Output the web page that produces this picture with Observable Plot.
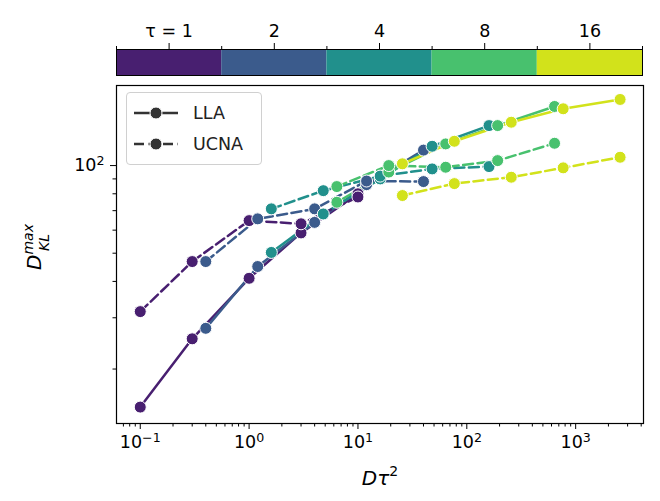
<!DOCTYPE html>
<html>
<head>
<meta charset="utf-8">
<script src="https://cdn.jsdelivr.net/npm/d3@7"></script>
<script src="https://cdn.jsdelivr.net/npm/@observablehq/plot@0.6"></script>
<style>
  html, body { margin: 0; padding: 0; background: white; }
  #wrap { position: relative; width: 660px; height: 501px; font-family: "DejaVu Sans", sans-serif; }
  #legend { position: absolute; left: 126px; top: 92px; width: 136px; height: 73px;
            border: 1px solid #d0d0d0; border-radius: 4px; background: rgba(255,255,255,0.85);
            box-sizing: border-box; }
  .lrow { position: absolute; left: 0; height: 22px; width: 135px; }
  .lrow svg { position: absolute; left: 5px; top: 0; }
  .lrow span { position: absolute; left: 66px; top: 0px; font-size: 17.5px; line-height: 22px; color: #222; }
</style>
</head>
<body>
<div id="wrap"></div>
<script>
// ---- data ----
const taus = [1, 2, 4, 8, 16];
const tauLabels = ["τ = 1", "2", "4", "8", "16"];
const tauColors = ["#481f70", "#3b5b8c", "#21908c", "#48c16e", "#d2e21b"];
const dValues = [0.1, 0.3, 1, 3, 10];

// LLA: D_KL^max per tau, at D = dValues (x = D * tau^2)
const llaTau1  = [14.8, 25.4, 41.0, 58.7, 80.0];
const llaTau2  = [27.6, 45.0, 63.8, 86.0, 113.0];
const llaTau4  = [50.3, 68.2, 90.0, 116.5, 137.2];
const llaTau8  = [74.8, 95.0, 118.7, 137.2, 159.6];
const llaTau16 = [101.4, 121.2, 140.9, 156.7, 168.7];

// UCNA
const ucnaTau1  = [31.5, 46.8, 64.7, 63.1, 78.0];
const ucnaTau2  = [46.8, 65.6, 71.0, 88.5, 88.1];
const ucnaTau4  = [71.0, 82.0, 92.0, 97.4, 99.2];
const ucnaTau8  = [84.7, 100.0, 98.7, 104.0, 119.3];
const ucnaTau16 = [78.9, 86.7, 91.2, 98.2, 106.8];

const xMajorTicks = [0.1, 1, 10, 100, 1000];
const xTickLabels = ["10^−1", "10^0", "10^1", "10^2", "10^3"];
const yMajorTicks = [100];
const yTickLabels = ["10^2"];

// ---- build table ----
const llaSeries = [llaTau1, llaTau2, llaTau4, llaTau8, llaTau16];
const ucnaSeries = [ucnaTau1, ucnaTau2, ucnaTau4, ucnaTau8, ucnaTau16];
const rows = [];
taus.forEach((t, i) => {
  dValues.forEach((d, j) => {
    rows.push({method: "LLA", tau: t, x: d * t * t, y: llaSeries[i][j]});
  });
  dValues.forEach((d, j) => {
    rows.push({method: "UCNA", tau: t, x: d * t * t, y: ucnaSeries[i][j]});
  });
});

// minor ticks for log axes
const xMinorTicks = [];
for (let e = -2; e <= 3; e++) for (let m = 2; m <= 9; m++) {
  const v = m * Math.pow(10, e);
  if (v > 0.06 && v < 4200) xMinorTicks.push(v);
}
const yMinorTicks = [];
for (let e = 1; e <= 2; e++) for (let m = 2; m <= 9; m++) {
  const v = m * Math.pow(10, e);
  if (v > 13 && v < 188) yMinorTicks.push(v);
}

const colorScale = {type: "ordinal", domain: taus, range: tauColors};
const font = {fontFamily: "DejaVu Sans, sans-serif", fontSize: "17.5px", color: "black", background: "white", overflow: "visible"};
const FS = 17.5;

// ---- colorbar ----
const cb = taus.map((t, i) => ({tau: t, i0: i, i1: i + 1}));
const colorbar = Plot.plot({
  width: 660, height: 80,
  marginLeft: 116, marginRight: 18, marginTop: 49, marginBottom: 5,
  style: font,
  x: {domain: [0, taus.length]},
  y: {domain: [0, 1], axis: null},
  color: colorScale,
  marks: [
    Plot.rect(cb, {x1: "i0", x2: "i1", y1: 0, y2: 1, fill: "tau"}),
    Plot.axisX({anchor: "top", ticks: taus.map((t, i) => i + 0.5), fontSize: FS,
      tickFormat: d => tauLabels[Math.floor(d)], tickSize: 7, tickPadding: 6, label: null}),
    Plot.axisX({anchor: "top", ticks: d3.range(taus.length + 1), tickFormat: () => "", tickSize: 4, label: null}),
    Plot.frame({stroke: "black", strokeWidth: 1})
  ]
});

// ---- main chart ----
const chart = Plot.plot({
  width: 660, height: 421,
  marginLeft: 116, marginRight: 17, marginTop: 5, marginBottom: 78,
  style: font,
  x: {type: "log", domain: [0.0605, 4200]},
  y: {type: "log", domain: [13.0, 188.4]},
  color: colorScale,
  marks: [
    Plot.axisX({ticks: xMinorTicks, tickFormat: () => "", tickSize: 3.5, label: null}),
    Plot.axisX({ticks: xMajorTicks, tickFormat: d => xTickLabels[xMajorTicks.indexOf(d)], fontSize: FS, tickSize: 6, tickPadding: 6, label: null}),
    Plot.axisY({ticks: yMinorTicks, tickFormat: () => "", tickSize: 3.5, label: null}),
    Plot.axisY({ticks: yMajorTicks, tickFormat: d => yTickLabels[yMajorTicks.indexOf(d)], fontSize: FS, tickSize: 6, tickPadding: 6, label: null}),
    Plot.line(rows.filter(r => r.method === "LLA"), {x: "x", y: "y", z: "tau", stroke: "tau", strokeWidth: 2.5}),
    Plot.line(rows.filter(r => r.method === "UCNA"), {x: "x", y: "y", z: "tau", stroke: "tau", strokeWidth: 2.5, strokeDasharray: "10,4.5"}),
    Plot.dot(rows, {x: "x", y: "y", fill: "tau", stroke: "white", strokeWidth: 1, r: 6}),
    Plot.frame({stroke: "black", strokeWidth: 1.2})
  ]
});

const svg = d3.select(chart.tagName === "svg" ? chart : chart.querySelector("svg"));

// render "10^e" tick labels with real superscripts
svg.selectAll("text").each(function () {
  const t = this.textContent;
  if (t.indexOf("^") > 0 && this.childElementCount === 0) {
    const [base, exp] = t.split("^");
    const el = d3.select(this);
    el.text(null);
    el.append("tspan").text(base);
    el.append("tspan").attr("font-size", "0.72em").attr("dy", "-0.5em").text(exp);
  }
});

// axis titles as real text
const xl = svg.append("text")
  .attr("x", 380).attr("y", 405).attr("text-anchor", "middle")
  .attr("font-size", 20).attr("font-family", "DejaVu Sans, sans-serif").attr("fill", "black");
xl.append("tspan").attr("font-style", "italic").text("Dτ");
xl.append("tspan").attr("font-size", 14).attr("dy", -9).text("2");

const yl = svg.append("text")
  .attr("transform", "translate(41,167) rotate(-90)").attr("text-anchor", "middle")
  .attr("font-size", 20).attr("font-family", "DejaVu Sans, sans-serif").attr("font-style", "italic").attr("fill", "black");
yl.append("tspan").text("D");
yl.append("tspan").attr("font-size", 14).attr("dy", -8).text("max");
yl.append("tspan").attr("font-size", 14).attr("dx", -27).attr("dy", 16).text("KL");

const wrap = document.getElementById("wrap");
wrap.appendChild(colorbar);
wrap.appendChild(chart);

// legend
const legend = document.createElement("div");
legend.id = "legend";
const legendItems = [{name: "LLA", dash: null}, {name: "UCNA", dash: "10,4.5"}];
legendItems.forEach((it, k) => {
  const row = document.createElement("div");
  row.className = "lrow";
  row.style.top = (9 + k * 31) + "px";
  const s = d3.create("svg").attr("width", 50).attr("height", 22);
  s.append("line").attr("x1", 2).attr("x2", 46).attr("y1", 11).attr("y2", 11)
    .attr("stroke", "#333").attr("stroke-width", 2.5).attr("stroke-dasharray", it.dash);
  s.append("circle").attr("cx", 24).attr("cy", 11).attr("r", 6).attr("fill", "#333").attr("stroke", "white").attr("stroke-width", 1);
  row.appendChild(s.node());
  const sp = document.createElement("span");
  sp.textContent = it.name;
  row.appendChild(sp);
  legend.appendChild(row);
});
wrap.appendChild(legend);
</script>
</body>
</html>
